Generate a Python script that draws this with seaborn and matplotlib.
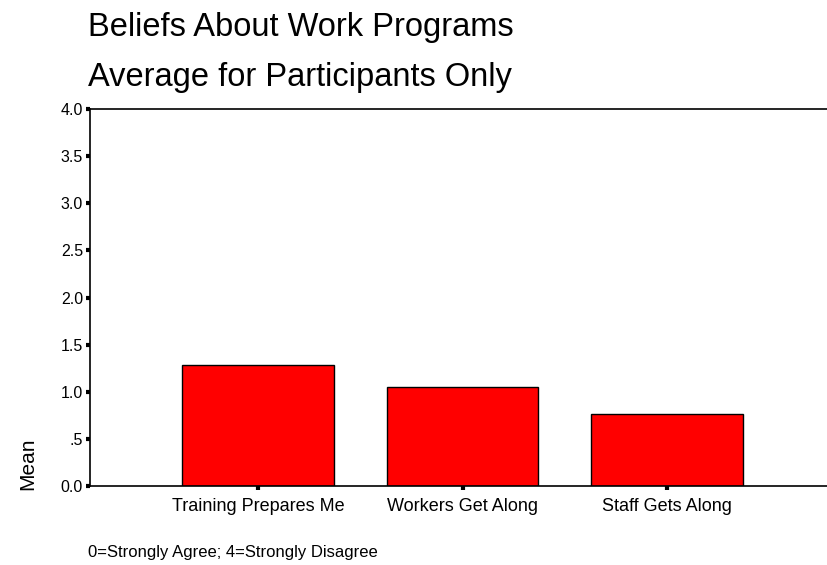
import matplotlib
matplotlib.use("Agg")
import matplotlib.pyplot as plt
import seaborn as sns
import pandas as pd

categories = ["Training Prepares Me", "Workers Get Along", "Staff Gets Along"]
means = [1.28, 1.05, 0.76]
ytick_values = [0.0, 0.5, 1.0, 1.5, 2.0, 2.5, 3.0, 3.5, 4.0]
ytick_labels = ["0.0", ".5", "1.0", "1.5", "2.0", "2.5", "3.0", "3.5", "4.0"]

sns.set_theme(style="white")
plt.rcParams["font.family"] = ["Liberation Sans", "DejaVu Sans"]
plt.rcParams["text.color"] = "black"

df = pd.DataFrame({"item": categories, "mean": means})

fig = plt.figure(figsize=(8.27, 5.65), dpi=100)
ax = fig.add_axes([0.1088, 0.1398, 0.8912, 0.6673])

sns.barplot(data=df, x="item", y="mean", color="#ff0000", saturation=1,
            width=0.74, edgecolor="black", linewidth=1.0, ax=ax)

ax.set_xlim(-0.822, 2.782)
ax.set_ylim(0, 4.0)
ax.set_yticks(ytick_values)
ax.set_yticklabels(ytick_labels)
ax.set_xlabel("")
ax.set_ylabel("")

for side in ["left", "top", "bottom"]:
    ax.spines[side].set_visible(True)
    ax.spines[side].set_color("black")
    ax.spines[side].set_linewidth(1.2)
ax.spines["right"].set_visible(False)

ax.tick_params(axis="both", which="major", direction="out", length=3, width=3,
               color="black", labelcolor="black", left=True, bottom=True)
ax.tick_params(axis="y", labelsize=11.5, pad=2)
ax.tick_params(axis="x", labelsize=13, pad=5.5)

fig.text(0.1064, 0.9363, "Beliefs About Work Programs", fontsize=23.5, ha="left", va="baseline")
fig.text(0.1064, 0.8478, "Average for Participants Only", fontsize=23.5, ha="left", va="baseline")
fig.text(0.034, 0.133, "Mean", fontsize=15, rotation=90, ha="center", va="bottom")
fig.text(0.1064, 0.0142, "0=Strongly Agree; 4=Strongly Disagree", fontsize=12, ha="left", va="baseline")

fig.savefig("out.png", dpi=100)
